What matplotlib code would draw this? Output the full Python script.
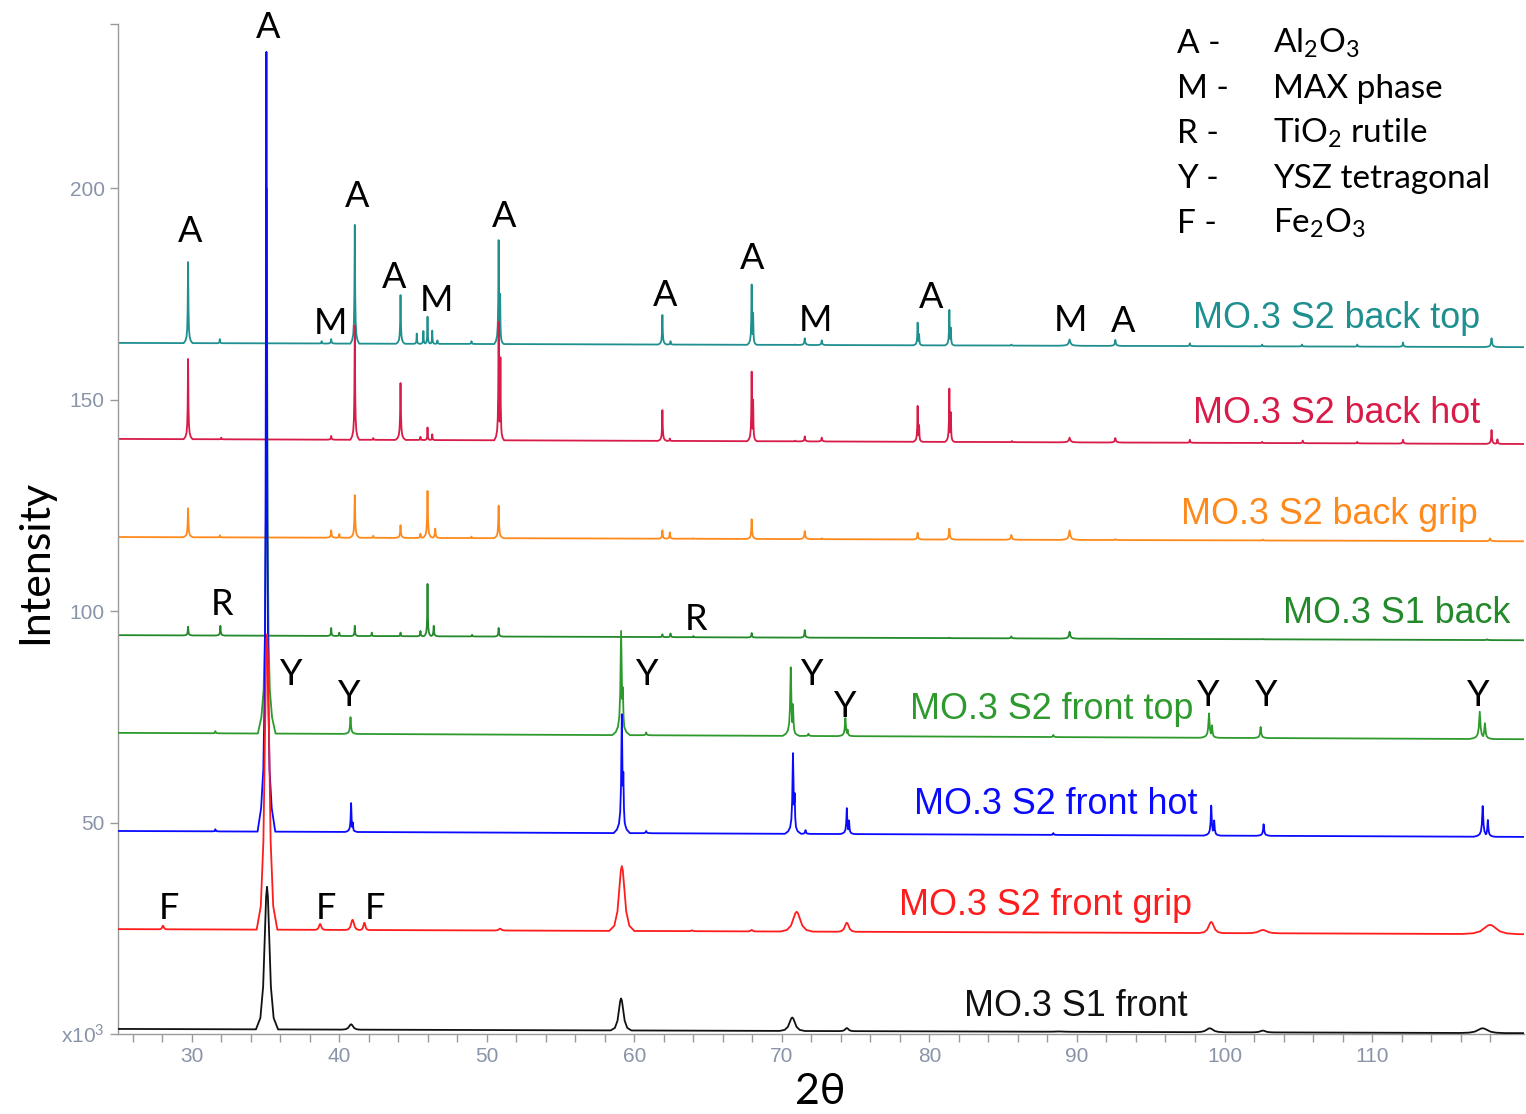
import numpy as np
import matplotlib
matplotlib.use('Agg')
import matplotlib.pyplot as plt

plt.rcParams['mathtext.fontset'] = 'custom'
plt.rcParams['mathtext.rm'] = 'Lato'
plt.rcParams['mathtext.it'] = 'Lato:italic'

X0, X1 = 25.0, 120.3   # 2theta range
Y1 = 238.8              # top of intensity axis (x10^3)

# samples, top to bottom
names = ['MO.3 S2 back top', 'MO.3 S2 back hot', 'MO.3 S2 back grip', 'MO.3 S1 back',
         'MO.3 S2 front top', 'MO.3 S2 front hot', 'MO.3 S2 front grip', 'MO.3 S1 front']
colors = ['#1f8f8f', '#d81b48', '#ff8a1c', '#23892a', '#2e9a2e', '#0a0aff', '#ff1c1c', '#111111']
broad = [False, False, False, False, False, False, True, True]

# background level at both ends of the scan
base_left = [163.4, 140.7, 117.5, 94.3, 71.2, 48.0, 24.8, 1.2]
base_right = [162.4, 139.5, 116.5, 93.1, 69.7, 46.6, 23.6, 0.2]

# peaks: (2theta, apex intensity, half base width)
back_top = [(29.75, 182.5, 0.3), (31.9, 164.3, 0.2), (38.8, 163.8, 0.2), (39.45, 164.3, 0.3),
            (41.05, 191.3, 0.3), (44.15, 174.7, 0.3), (45.25, 165.6, 0.2), (45.7, 166.2, 0.2),
            (45.98, 169.6, 0.2), (46.3, 166.3, 0.2), (46.65, 164.0, 0.2), (48.96, 163.8, 0.25),
            (50.8, 187.7, 0.3), (50.9, 175.0, 0.25), (61.9, 170.0, 0.3), (62.45, 163.8, 0.25),
            (64.0, 163.0, 0.2), (67.95, 177.2, 0.3), (68.05, 170.5, 0.25), (70.9, 163.0, 0.2),
            (71.55, 164.5, 0.4), (72.7, 164.0, 0.35), (79.2, 168.2, 0.3), (79.3, 165.5, 0.25),
            (81.35, 171.2, 0.3), (81.45, 167.0, 0.25), (84.2, 162.8, 0.2), (85.55, 163.0, 0.3),
            (89.5, 164.2, 0.8), (92.6, 164.1, 0.45), (97.65, 163.3, 0.3), (102.55, 163.0, 0.3),
            (105.25, 163.0, 0.35), (109.0, 163.0, 0.3), (112.1, 163.5, 0.35), (118.1, 164.5, 0.5)]
back_hot = [(29.75, 159.6, 0.3), (32.0, 141.0, 0.2), (39.45, 141.4, 0.3), (41.05, 167.5, 0.3),
            (42.3, 140.9, 0.2), (44.15, 153.9, 0.35), (45.5, 141.2, 0.2), (45.98, 143.4, 0.2),
            (46.3, 141.8, 0.2), (50.8, 168.4, 0.3), (50.92, 160.0, 0.25), (61.9, 147.5, 0.3),
            (62.4, 140.8, 0.2), (67.95, 156.6, 0.3), (68.05, 150.0, 0.25), (70.9, 140.3, 0.2),
            (71.55, 141.3, 0.35), (72.7, 141.0, 0.35), (79.2, 148.5, 0.3), (79.3, 144.0, 0.25),
            (81.35, 152.6, 0.3), (81.45, 147.0, 0.25), (85.6, 140.2, 0.3), (89.5, 141.0, 0.7),
            (92.6, 140.9, 0.5), (97.65, 140.5, 0.3), (102.55, 140.0, 0.3), (105.3, 140.3, 0.3),
            (109.0, 140.0, 0.3), (112.1, 140.5, 0.35), (118.1, 142.8, 0.35), (118.5, 140.6, 0.3)]
back_grip = [(29.75, 124.3, 0.35), (31.9, 117.9, 0.2), (39.45, 119.1, 0.35), (40.0, 118.2, 0.2),
             (41.05, 127.4, 0.35), (42.3, 117.8, 0.2), (44.15, 120.3, 0.35), (45.5, 118.3, 0.3),
             (45.98, 128.4, 0.35), (46.5, 119.5, 0.35), (48.96, 117.6, 0.2), (50.8, 124.9, 0.35),
             (61.9, 119.1, 0.3), (62.4, 118.6, 0.3), (64.0, 117.2, 0.2), (67.95, 121.7, 0.35),
             (71.55, 118.9, 0.45), (72.7, 117.2, 0.3), (79.2, 118.5, 0.35), (81.35, 119.5, 0.4),
             (85.55, 118.0, 0.5), (89.5, 119.1, 0.7), (92.6, 117.0, 0.4), (102.6, 116.9, 0.4),
             (118.0, 117.2, 0.5)]
s1_back = [(29.75, 96.3, 0.3), (31.94, 96.5, 0.3), (39.45, 96.0, 0.25), (40.0, 94.9, 0.2),
           (41.05, 96.5, 0.25), (42.2, 94.9, 0.2), (44.15, 94.9, 0.2), (45.5, 95.3, 0.25),
           (45.98, 106.4, 0.25), (46.4, 96.5, 0.3), (49.0, 94.4, 0.2), (50.8, 96.0, 0.3),
           (61.9, 94.5, 0.25), (62.45, 94.7, 0.3), (64.0, 94.1, 0.25), (67.95, 94.8, 0.3),
           (71.55, 95.5, 0.35), (79.2, 93.6, 0.3), (81.35, 93.7, 0.3), (85.55, 94.0, 0.4),
           (89.5, 95.1, 0.6), (92.6, 93.5, 0.3), (102.6, 93.4, 0.3), (117.8, 93.3, 0.5)]
front_top = [(31.6, 71.6, 0.3), (35.08, 200.0, 0.6), (40.76, 74.9, 0.45), (59.1, 95.3, 0.6),
             (59.22, 82.0, 0.45), (60.8, 71.3, 0.4), (70.6, 86.7, 0.55), (70.75, 78.0, 0.45),
             (71.8, 71.0, 0.4), (74.3, 74.7, 0.5), (74.45, 72.0, 0.45), (88.4, 70.7, 0.35),
             (98.95, 75.8, 0.6), (99.15, 73.0, 0.5), (102.45, 72.6, 0.5), (117.3, 76.2, 0.7),
             (117.65, 73.5, 0.6)]
front_hot = [(31.6, 48.4, 0.3), (35.06, 232.2, 0.6), (40.8, 54.6, 0.4), (40.92, 50.0, 0.3),
             (59.15, 75.6, 0.55), (59.25, 62.0, 0.45), (60.8, 48.0, 0.4), (70.75, 66.4, 0.55),
             (70.86, 57.0, 0.45), (71.6, 48.2, 0.4), (74.4, 53.4, 0.45), (74.55, 50.5, 0.4),
             (88.4, 47.5, 0.35), (99.1, 54.0, 0.5), (99.3, 50.5, 0.45), (102.65, 49.6, 0.5),
             (117.5, 53.9, 0.6), (117.85, 50.6, 0.5)]
front_grip = [(28.05, 25.6, 0.25), (35.1, 94.5, 0.7), (38.7, 26.0, 0.35), (40.9, 27.0, 0.45),
              (41.7, 26.3, 0.3), (50.9, 24.9, 0.4), (59.15, 39.7, 0.85), (63.9, 24.5, 0.3),
              (67.95, 24.6, 0.3), (71.0, 28.9, 1.1), (74.4, 26.3, 0.6), (76.0, 24.0, 0.3),
              (88.5, 24.0, 0.6), (99.1, 26.5, 0.8), (102.6, 24.6, 1.2), (118.0, 25.8, 1.9)]
s1_front = [(35.1, 34.8, 0.75), (40.8, 2.3, 0.6), (59.1, 8.4, 0.7), (70.7, 3.9, 0.85),
            (74.4, 1.4, 0.5), (88.8, 0.6, 1.2), (99.0, 1.35, 1.0), (102.6, 0.8, 0.8),
            (117.5, 1.35, 1.5)]
peaks = [back_top, back_hot, back_grip, s1_back, front_top, front_hot, front_grip, s1_front]

# sample label: right end 2theta, baseline intensity
label_x = [117.32, 117.32, 117.19, 119.36, 97.86, 98.14, 97.80, 97.53]
label_y = [166.9, 144.4, 120.6, 97.2, 74.5, 52.0, 28.1, 4.3]

# phase marks: letter, 2theta, baseline intensity
marks = [('A', 35.15, 235.4), ('A', 29.86, 187.2), ('A', 41.19, 195.5), ('A', 43.69, 176.3),
         ('M', 46.61, 170.9), ('M', 39.42, 165.5), ('A', 51.15, 190.8), ('A', 62.07, 172.1),
         ('A', 67.97, 180.8), ('M', 72.24, 166.2), ('A', 80.10, 171.6), ('M', 89.53, 166.2),
         ('A', 93.12, 165.9), ('R', 32.03, 99.0), ('R', 64.17, 95.5),
         ('Y', 36.71, 82.5), ('Y', 40.64, 77.5), ('Y', 60.85, 82.5), ('Y', 72.03, 82.5),
         ('Y', 74.27, 74.9), ('Y', 98.88, 77.5), ('Y', 102.81, 77.5), ('Y', 117.19, 77.5),
         ('F', 28.44, 27.1), ('F', 39.08, 27.1), ('F', 42.41, 27.1)]

legend_keys = ['A -', 'M -', 'R -', 'Y -', 'F -']
legend_names = ['Al$_2$O$_3$', 'MAX phase', 'TiO$_2$ rutile', 'YSZ tetragonal', 'Fe$_2$O$_3$']

# peak outlines (fraction of height across the base width)
SHARP_X = np.array([-1, -0.6, -0.35, -0.2, -0.1, -0.04, 0, 0.04, 0.1, 0.2, 0.35, 0.6, 1])
SHARP_F = np.array([0, 0.03, 0.08, 0.18, 0.4, 0.78, 1, 0.78, 0.4, 0.18, 0.08, 0.03, 0])
BROAD_X = np.array([-1, -0.6, -0.35, -0.2, -0.08, 0, 0.08, 0.2, 0.35, 0.6, 1])
BROAD_F = np.array([0, 0.08, 0.3, 0.65, 0.93, 1, 0.93, 0.65, 0.3, 0.08, 0])


def pattern(plist, b0, b1, wide):
    sx, sf = (BROAD_X, BROAD_F) if wide else (SHARP_X, SHARP_F)
    xs = [X0, X1]
    for p, h, w in plist:
        xs.extend(p + sx * w)
    xs = np.unique(np.clip(xs, X0, X1))
    base = np.interp(xs, [X0, X1], [b0, b1])
    y = base.copy()
    for p, h, w in plist:
        hb = h - np.interp(p, [X0, X1], [b0, b1])
        y = np.maximum(y, base + hb * np.interp(xs, p + sx * w, sf, left=0, right=0))
    return xs, y


fig = plt.figure(figsize=(15.26, 11.14), dpi=100)
ax = fig.add_axes([118 / 1526, 80 / 1114, 1406 / 1526, 1010 / 1114])

zorders = [2, 2, 2, 2, 3, 4, 5, 6]
for i in range(len(names)):
    x, y = pattern(peaks[i], base_left[i], base_right[i], broad[i])
    ax.plot(x, y, color=colors[i], lw=1.3, zorder=zorders[i], solid_joinstyle='round')
    ax.text(label_x[i], label_y[i], names[i], color=colors[i], ha='right', va='baseline',
            fontsize=25.8, family='Liberation Sans', zorder=7)

for letter, x, y in marks:
    ax.text(x, y, letter, ha='center', va='baseline', fontsize=26, family=['Lato', 'DejaVu Sans'],
            clip_on=False, zorder=8)

ax.set_xlim(X0, X1)
ax.set_ylim(0, Y1)
for s in ['top', 'right']:
    ax.spines[s].set_visible(False)
for s in ['left', 'bottom']:
    ax.spines[s].set_color('#9a9a9a')
    ax.spines[s].set_linewidth(1.0)

xt = np.arange(26, 120, 2)
ax.set_xticks(xt)
ax.set_xticklabels([str(v) if v % 10 == 0 else '' for v in xt])
ax.set_yticks([0, 50, 100, 150, 200, Y1])
ax.set_yticklabels(['x10$^3$', '50', '100', '150', '200', ''])
ax.tick_params(colors='#9a9a9a', labelcolor='#8a94a8', length=6, width=1.0, labelsize=15)
for t in ax.get_xticklabels() + ax.get_yticklabels():
    t.set_family('Liberation Sans')

fig.text(35 / 1526, 1 - 562 / 1114, 'Intensity', rotation=90, ha='center', va='center',
         fontsize=31, family=['Lato', 'DejaVu Sans'])
fig.text(820 / 1526, 1 - 1092 / 1114, '2θ', ha='center', va='center',
         fontsize=31, family=['Lato', 'DejaVu Sans'])

for k in range(len(legend_keys)):
    yb = 1 - (53 + 45 * k) / 1114
    fig.text(1177 / 1526, yb, legend_keys[k], ha='left', va='baseline', fontsize=24,
             family=['Lato', 'DejaVu Sans'])
    fig.text(1273 / 1526, yb, legend_names[k], ha='left', va='baseline', fontsize=24,
             family=['Lato', 'DejaVu Sans'])

fig.savefig('out.png', dpi=100)
